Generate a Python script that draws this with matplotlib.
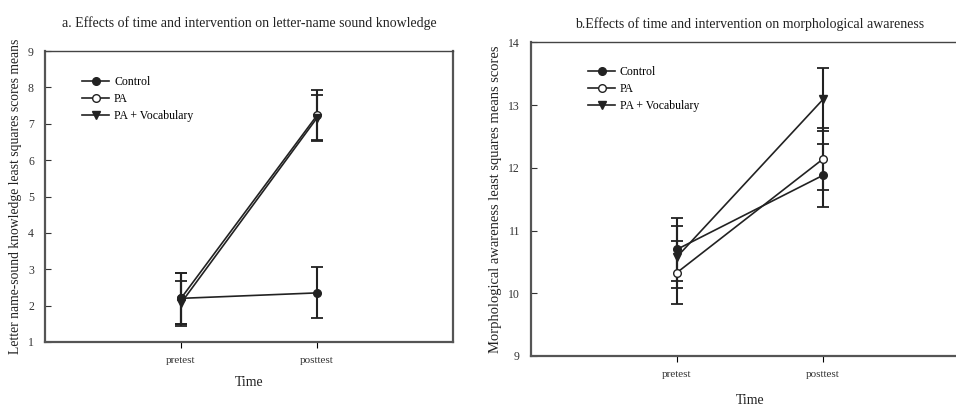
import matplotlib
matplotlib.use("Agg")
import matplotlib.pyplot as plt

plt.rcParams['font.family'] = ['Liberation Serif', 'DejaVu Serif']

times = ['pretest', 'posttest']
groups = ['Control', 'PA', 'PA + Vocabulary']
draw_order = ['PA', 'PA + Vocabulary', 'Control']

# panel a: letter-name sound knowledge
a_means = {'Control': [2.2, 2.35], 'PA': [2.2, 7.23], 'PA + Vocabulary': [2.07, 7.16]}
a_errs = {'Control': [0.7, 0.7], 'PA': [0.7, 0.7], 'PA + Vocabulary': [0.62, 0.62]}

# panel b: morphological awareness
b_means = {'Control': [10.7, 11.88], 'PA': [10.33, 12.14], 'PA + Vocabulary': [10.58, 13.09]}
b_errs = {'Control': [0.5, 0.5], 'PA': [0.5, 0.5], 'PA + Vocabulary': [0.5, 0.5]}

styles = {'Control': dict(marker='o', mfc='#222222'),
          'PA': dict(marker='o', mfc='white'),
          'PA + Vocabulary': dict(marker='v', mfc='#222222')}

fig = plt.figure(figsize=(9.56, 4.07), dpi=100)
ax_a = fig.add_axes([45/956, 1-342/407, 408/956, 291/407])
ax_b = fig.add_axes([531/956, 1-356/407, 438/956, 313.7/407])


def draw(ax, means, errs, ylim, title, ylabel, leg_anchor, title_y, xlab_pad, ylab_size):
    x = [1, 2]
    for g in groups:
        ax.errorbar(x, means[g], yerr=errs[g], fmt='none', ecolor='#222222',
                    elinewidth=1.5, capsize=4.5, capthick=1.3, zorder=2)
    lines = {}
    for i, g in enumerate(draw_order):
        lines[g], = ax.plot(x, means[g], color='#222222', lw=1.2, ms=5.5,
                            mec='#222222', label=g, zorder=3 + i, **styles[g])
    ax.set_xlim(0, 3)
    ax.set_ylim(*ylim)
    ax.set_xticks(x)
    ax.set_xticklabels(times, fontsize=8, color='#333333')
    ax.set_yticks(range(ylim[0], ylim[1] + 1))
    ax.tick_params(axis='y', direction='in', length=4, labelsize=8.5,
                   colors='#333333', pad=8)
    ax.tick_params(axis='x', direction='out', length=4, pad=6)
    for s in ['left', 'bottom', 'right']:
        ax.spines[s].set_linewidth(1.6)
        ax.spines[s].set_color('#555555')
    ax.spines['top'].set_linewidth(1.0)
    ax.spines['top'].set_color('#444444')
    ax.set_xlabel('Time', fontsize=10, labelpad=xlab_pad, color='#222222')
    ax.set_ylabel(ylabel, fontsize=ylab_size, color='#222222', labelpad=4)
    ax.set_title(title, fontsize=10, y=title_y, color='#222222')
    ax.legend([lines[g] for g in groups], groups, loc='upper left',
              bbox_to_anchor=leg_anchor, frameon=False,
              fontsize=8.5, handlelength=2.3, handletextpad=0.4,
              borderpad=0, borderaxespad=0, labelspacing=0.45)


draw(ax_a, a_means, a_errs, (1, 9),
     'a. Effects of time and intervention on letter-name sound knowledge',
     'Letter name-sound knowledge least squares scores means',
     (0.091, 0.915), 1.055, 8, 9.8)
draw(ax_b, b_means, b_errs, (9, 14),
     'b.Effects of time and intervention on morphological awareness',
     'Morphological awareness least squares means scores',
     (0.13, 0.925), 1.02, 11, 10.5)
ax_b.set_title(ax_b.get_title(), fontsize=10, y=1.02, x=(750-531)/438,
               color='#222222')

fig.savefig('out.png', dpi=100)
